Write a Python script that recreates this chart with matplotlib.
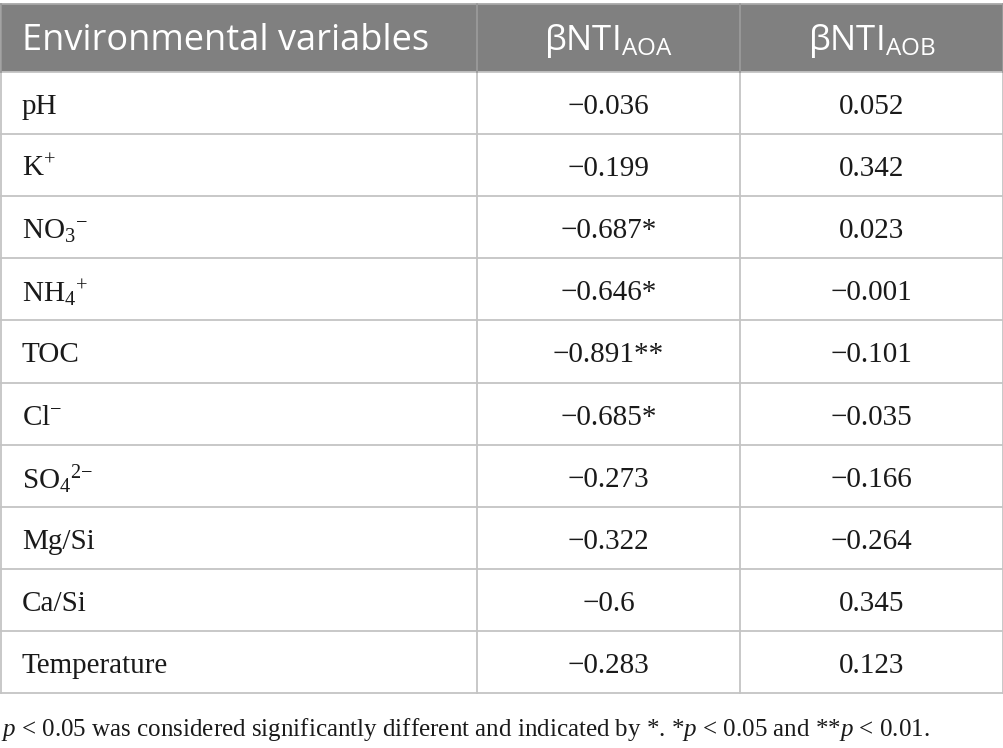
#!/usr/bin/env python3
"""Table: correlation of environmental variables with betaNTI (AOA / AOB)."""

import matplotlib

matplotlib.use("Agg")
import matplotlib.pyplot as plt
from matplotlib.patches import Rectangle

plt.rcParams.update({
    "font.family": ["Liberation Serif", "DejaVu Serif"],
    "mathtext.fontset": "custom",
    "mathtext.rm": "Liberation Serif",
    "mathtext.it": "Liberation Serif:italic",
    "mathtext.bf": "Liberation Serif:bold",
    "mathtext.sf": "Open Sans",
})

# ── Data ──────────────────────────────────────────────────────────────────────
headers = ["Environmental variables",
           r"$\mathsf{βNTI}_{\mathsf{AOA}}$",
           r"$\mathsf{βNTI}_{\mathsf{AOB}}$"]
variables = ["pH", r"K$^{+}$", r"NO$_{3}$$^{−}$", r"NH$_{4}$$^{+}$", "TOC",
             r"Cl$^{−}$", r"SO$_{4}$$^{2{−}}$", "Mg/Si", "Ca/Si", "Temperature"]
bnti_aoa = [-0.036, -0.199, -0.687, -0.646, -0.891, -0.685, -0.273, -0.322, -0.6, -0.283]
sig_aoa = ["", "", "*", "*", "**", "*", "", "", "", ""]
bnti_aob = [0.052, 0.342, 0.023, -0.001, -0.101, -0.035, -0.166, -0.264, 0.345, 0.123]
sig_aob = [""] * 10
footnote = (r"$\mathit{p}$ < 0.05 was considered significantly different and "
            r"indicated by *. *$\mathit{p}$ < 0.05 and **$\mathit{p}$ < 0.01.")

# ── Layout (pixels) ───────────────────────────────────────────────────────────
W, H = 1004, 748
LEFT, RIGHT = 1, 1003
COL_X = [LEFT, 477, 740, RIGHT]
HEAD_TOP, HEAD_BOT = 4, 72
ROW_H = 62.1
HEADER_BG = "#808080"
GRID = "#c4c4c4"
TXT = "#1a1a1a"
BODY_FS = 21


def fmt(v, s):
    return str(v).replace("-", "−") + s


fig = plt.figure(figsize=(W / 100, H / 100), dpi=100)
ax = fig.add_axes([0, 0, 1, 1])
ax.set_xlim(0, W)
ax.set_ylim(H, 0)
ax.axis("off")

# header
ax.add_patch(Rectangle((LEFT, HEAD_TOP), RIGHT - LEFT, HEAD_BOT - HEAD_TOP,
                       facecolor=HEADER_BG, edgecolor="none", zorder=1))
head_mid = (HEAD_TOP + HEAD_BOT) / 2
ax.text(22, head_mid + 3, headers[0], fontsize=26, family="Open Sans",
        color="white", ha="left", va="center", zorder=3)
for j in (1, 2):
    cx = (COL_X[j] + COL_X[j + 1]) / 2
    ax.text(cx, head_mid + 3, headers[j], fontsize=25, color="white",
            ha="center", va="center", zorder=3)

n = len(variables)
bottom = HEAD_BOT + n * ROW_H

# body text
for i in range(n):
    cy = HEAD_BOT + (i + 0.5) * ROW_H + 1
    ax.text(22, cy, variables[i], fontsize=BODY_FS, color=TXT,
            ha="left", va="center_baseline", zorder=3)
    ax.text((COL_X[1] + COL_X[2]) / 2, cy, fmt(bnti_aoa[i], sig_aoa[i]),
            fontsize=BODY_FS, color=TXT, ha="center", va="center_baseline", zorder=3)
    ax.text((COL_X[2] + COL_X[3]) / 2, cy, fmt(bnti_aob[i], sig_aob[i]),
            fontsize=BODY_FS, color=TXT, ha="center", va="center_baseline", zorder=3)

# grid lines
for i in range(n + 1):
    y = HEAD_BOT + i * ROW_H
    ax.plot([LEFT, RIGHT], [y, y], color=GRID, lw=1.3, zorder=2)
ax.plot([LEFT, RIGHT], [HEAD_TOP, HEAD_TOP], color="#a8a8a8", lw=1.3, zorder=2)
for x in COL_X:
    ax.plot([x, x], [HEAD_BOT, bottom], color=GRID, lw=1.3, zorder=2)
    ax.plot([x, x], [HEAD_TOP, HEAD_BOT], color="#9a9a9a", lw=1.3, zorder=2)

# footnote
ax.text(1, 726, footnote, fontsize=18, color=TXT, ha="left", va="center_baseline")

fig.savefig("out.png", dpi=100, facecolor="white")
plt.close(fig)
